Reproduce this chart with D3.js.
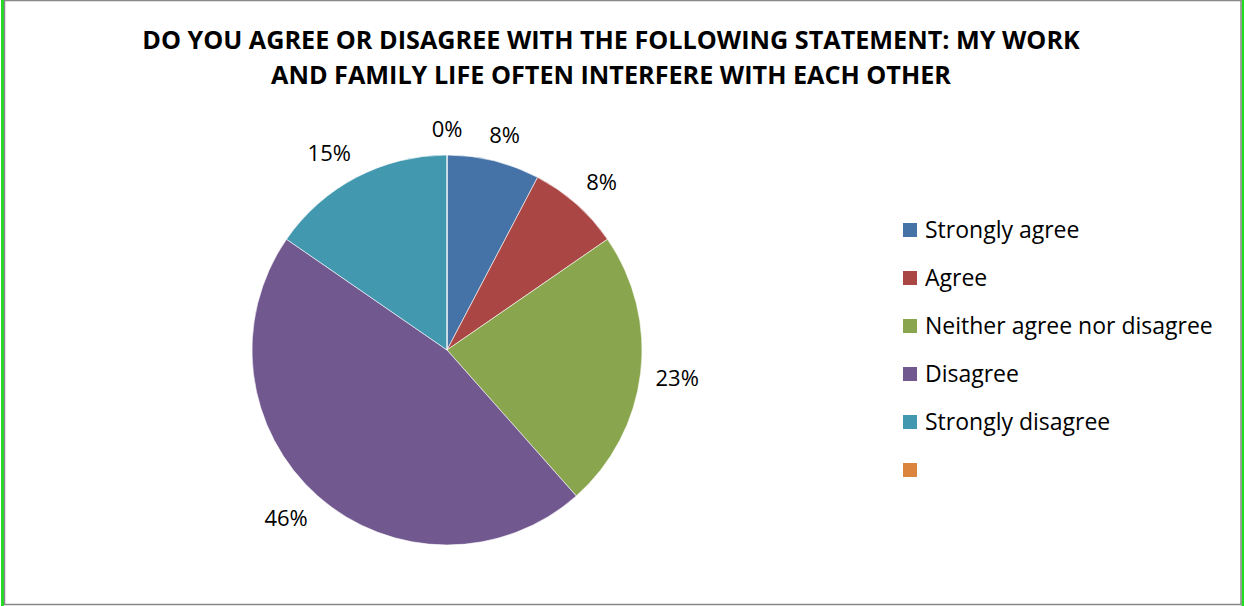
<!DOCTYPE html>
<html><head><meta charset="utf-8">
<script src="https://cdn.jsdelivr.net/npm/d3@7"></script>
<style>body{margin:0;background:#fff}svg{display:block}</style>
</head><body>
<svg id="c" width="1244" height="606"></svg>
<script>
const categories = ["Strongly agree","Agree","Neither agree nor disagree","Disagree","Strongly disagree",""];
const values = [1,1,3,6,2,0];
const percentLabels = ["8%","8%","23%","46%","15%","0%"];
const colors = ["#4572A7","#AA4643","#89A54E","#71588F","#4198AF","#DB843D"];
const titleLines = ["DO YOU AGREE OR DISAGREE WITH THE FOLLOWING STATEMENT: MY WORK","AND FAMILY LIFE OFTEN INTERFERE WITH EACH OTHER"];

const svg = d3.select("#c");
const FONT = "'Open Sans', 'Liberation Sans', sans-serif";
// frame
svg.append("rect").attr("x",1).attr("y",0).attr("width",3).attr("height",606).attr("fill","#22dd22");
svg.append("rect").attr("x",1241.5).attr("y",0).attr("width",3).attr("height",606).attr("fill","#22dd22");
svg.append("rect").attr("x",4.5).attr("y",0.5).attr("width",1236.5).attr("height",604).attr("fill","#fff").attr("stroke","#888").attr("stroke-width",1.5);

// title
svg.append("text").attr("x",611).attr("y",49).attr("text-anchor","middle")
  .style("font-family",FONT).style("font-weight","bold").style("font-size","25.2px")
  .selectAll("tspan").data(titleLines).join("tspan").attr("x",611).attr("dy",(d,i)=>i?35:0).text(d=>d);

const cx=447, cy=350, r=195;
const pie = d3.pie().sort(null).value(d=>d)(values);
const arc = d3.arc().innerRadius(0).outerRadius(r);
const g = svg.append("g").attr("transform",`translate(${cx},${cy})`);
g.selectAll("path").data(pie).join("path").attr("d",arc).attr("fill",(d,i)=>colors[i])
  .attr("stroke","#fff").attr("stroke-width",0.6);

const labels = g.selectAll("text").data(pie).join("text")
  .attr("text-anchor","middle").attr("dy","0.35em")
  .style("font-family",FONT).style("font-size","22px").attr("fill","#000")
  .text((d,i)=>percentLabels[i]);
labels.attr("transform",function(d){
    const a=(d.startAngle+d.endAngle)/2;
    const s=Math.sin(a), c=Math.cos(a);
    const w=this.getComputedTextLength(), h=22;
    const R=r+15;
    const x=R*s + (w/2)*Math.max(-1,Math.min(1,s*2));
    const y=-R*c - (h/2)*Math.max(-1,Math.min(1,c*2));
    return `translate(${x},${y})`;});

// legend
const lg = svg.append("g").attr("transform","translate(903,230)");
const items = lg.selectAll("g").data(categories).join("g").attr("transform",(d,i)=>`translate(0,${i*48})`);
items.append("rect").attr("x",0).attr("y",-7).attr("width",14).attr("height",14).attr("fill",(d,i)=>colors[i]);
items.append("text").attr("x",22).attr("dy","0.35em").style("font-family",FONT).style("font-size","23px").text(d=>d);
</script>
</body></html>
